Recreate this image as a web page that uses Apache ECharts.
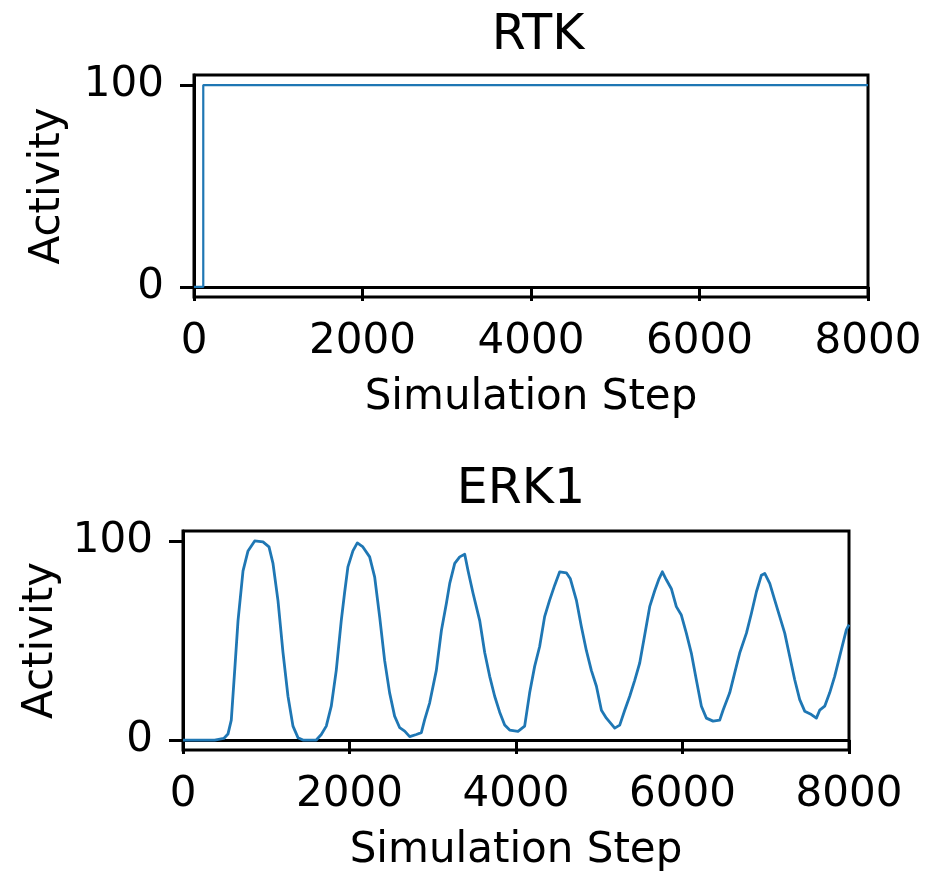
<!DOCTYPE html>
<html>
<head>
<meta charset="utf-8">
<script src="https://cdn.jsdelivr.net/npm/echarts@6/dist/echarts.min.js"></script>
<style>
  html, body { margin: 0; padding: 0; background: #fff; }
  #chart { width: 930px; height: 875px; }
</style>
</head>
<body>
<div id="chart"></div>
<script>
// RTK: step from 0 to 100 shortly after the start
var rtkSteps = [0, 110, 110, 8000];
var rtkValues = [0, 0, 100, 100];

// ERK1: oscillating activity
var erkSteps = [0, 380, 400, 490, 540, 580, 621, 661, 721, 781, 861, 961, 1033, 1081, 1141, 1201, 1261, 1321, 1381, 1441,
  1601, 1661, 1721, 1781, 1841, 1901, 1941, 1981, 2041, 2094, 2161, 2242, 2302, 2362, 2422, 2482, 2542, 2603, 2663, 2723,
  2803, 2863, 2903, 2963, 3043, 3104, 3164, 3204, 3264, 3324, 3384, 3424, 3484, 3564, 3624, 3684, 3744, 3804, 3864, 3924,
  4024, 4104, 4164, 4224, 4284, 4344, 4404, 4465, 4525, 4605, 4653, 4725, 4785, 4845, 4905, 4966, 5026, 5086, 5186, 5246,
  5306, 5366, 5426, 5486, 5546, 5606, 5666, 5718, 5758, 5806, 5866, 5926, 5986, 6046, 6106, 6166, 6227, 6287, 6367, 6447,
  6487, 6567, 6627, 6687, 6768, 6828, 6888, 6948, 6988, 7048, 7108, 7168, 7228, 7288, 7348, 7408, 7468, 7548, 7608, 7648,
  7708, 7768, 7828, 7888, 7968, 8000];
var erkValues = [0, 0, 0.8, 0.8, 3, 10, 35, 60, 85, 95, 100, 99.5, 97, 88.7, 70, 44, 22, 7, 1.2, 0,
  0, 2.8, 7, 17, 35, 60, 74, 87, 95, 99, 97, 92, 82, 62, 40, 23.7, 12, 6.2, 4.5, 1.7,
  2.8, 3.7, 10.3, 18.7, 35, 55, 68.7, 78.7, 88.7, 92, 93.3, 85, 73.7, 60, 44, 32, 22, 14, 7.5, 5,
  4.4, 7, 23.7, 37, 47, 62, 70.3, 77.8, 84.5, 84, 81, 70.3, 57, 45, 35, 27, 15, 11, 6, 7.5,
  15, 22, 30, 38.7, 52.8, 67, 75, 81, 84.5, 80.5, 76, 67, 62.8, 53.7, 43.7, 30.3, 17, 11, 9.5, 10,
  15, 23.7, 33.7, 43.7, 53.7, 63.7, 74.5, 82.8, 83.7, 78.7, 70.3, 62, 53.7, 42, 30.3, 20.3, 14.5, 12.8, 11, 15,
  17, 23.7, 32, 42, 55.3, 58];

var xTicks = [0, 2000, 4000, 6000, 8000];
var yTicks = [0, 100];

function pairs(xs, ys) {
  return xs.map(function (x, i) { return [x, ys[i]]; });
}

var font = 'DejaVu Sans';
var lineColor = '#1f77b4';
var spine = 3;

function xAxis(gridIndex) {
  return {
    type: 'value', gridIndex: gridIndex, min: 0, max: 8000, interval: 2000,
    name: 'Simulation Step', nameLocation: 'middle', nameGap: 80,
    nameTextStyle: { fontFamily: font, fontSize: 42, color: '#000' },
    axisLine: { lineStyle: { color: '#000', width: spine } },
    axisTick: { length: 14, customValues: xTicks, lineStyle: { color: '#000', width: spine } },
    axisLabel: { fontFamily: font, fontSize: 42, color: '#000', margin: 24, customValues: xTicks,
      formatter: function (v) { return String(v); } },
    splitLine: { show: false }
  };
}

function yAxis(gridIndex, gap) {
  return {
    type: 'value', gridIndex: gridIndex, min: -5, max: 105,
    name: 'Activity', nameLocation: 'middle', nameGap: gap, nameRotate: 90,
    nameTextStyle: { fontFamily: font, fontSize: 42, color: '#000' },
    axisLine: { show: true, lineStyle: { color: '#000', width: spine } },
    axisTick: { show: true, length: 14, customValues: yTicks, lineStyle: { color: '#000', width: spine } },
    axisLabel: { fontFamily: font, fontSize: 42, color: '#000', margin: 30, customValues: yTicks },
    splitLine: { show: false }
  };
}

var myChart = echarts.init(document.getElementById('chart'), null, { renderer: 'canvas' });
var option = {
  backgroundColor: '#fff',
  animation: false,
  title: [
    { text: 'RTK', left: 533, top: 7, textAlign: 'center',
      textStyle: { fontFamily: font, fontSize: 49, fontWeight: 'normal', color: '#000' } },
    { text: 'ERK1', left: 516, top: 461, textAlign: 'center',
      textStyle: { fontFamily: font, fontSize: 49, fontWeight: 'normal', color: '#000' } }
  ],
  grid: [
    { left: 194, top: 75, width: 674, height: 222, show: true, borderColor: '#000', borderWidth: spine },
    { left: 183, top: 531, width: 666, height: 219, show: true, borderColor: '#000', borderWidth: spine }
  ],
  xAxis: [xAxis(0), xAxis(1)],
  yAxis: [yAxis(0, 125), yAxis(1, 121)],
  series: [
    { type: 'line', xAxisIndex: 0, yAxisIndex: 0, data: pairs(rtkSteps, rtkValues),
      showSymbol: false, lineStyle: { color: lineColor, width: 2.2 } },
    { type: 'line', xAxisIndex: 1, yAxisIndex: 1, data: pairs(erkSteps, erkValues),
      showSymbol: false, lineStyle: { color: lineColor, width: 2.8, join: 'round' } }
  ]
};
myChart.setOption(option);
</script>
</body>
</html>
